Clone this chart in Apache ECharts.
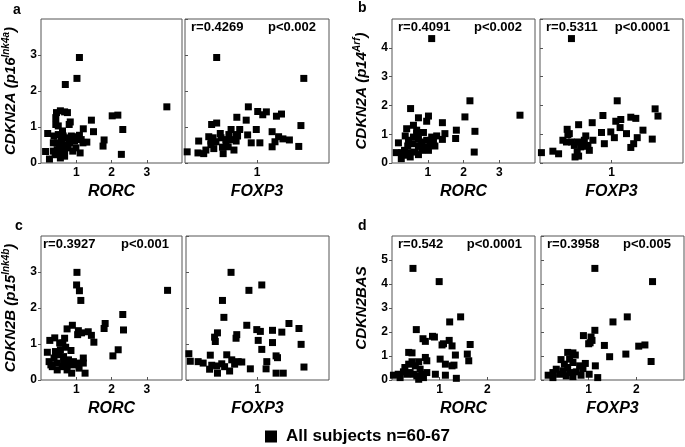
<!DOCTYPE html>
<html><head><meta charset="utf-8">
<script src="https://cdn.jsdelivr.net/npm/echarts@6/dist/echarts.min.js"></script>
<style>html,body{margin:0;padding:0;background:#fff}#c{width:685px;height:447px}</style>
</head><body><div id="c"></div>
<script>
// Panel a: CDKN2A (p16Ink4a)
const aRORC = [[1.09,2.93],[1.02,2.35],[0.69,2.18],[3.57,1.56],[2.02,1.31],[2.18,1.33],[2.32,0.93],[2.28,0.24],[1.43,1.19],[1.79,0.64],[1.76,0.47],[1.49,0.87],[1.20,0.95],[1.30,0.58],[1.11,0.28],[0.19,0.82],[0.13,0.32],[0.24,0.11],[0.44,1.40],[0.55,1.45],[0.67,1.42],[0.75,1.40],[0.42,1.26],[0.42,1.07],[0.49,1.03],[0.83,1.14],[0.80,1.07],[0.35,0.56],[0.37,0.75],[0.49,0.79],[0.63,0.75],[0.72,0.70],[0.86,0.75],[0.99,0.73],[1.09,0.77],[0.46,0.56],[0.58,0.61],[0.67,0.51],[0.81,0.56],[0.95,0.61],[1.14,0.65],[1.19,0.56],[0.35,0.33],[0.46,0.37],[0.58,0.28],[0.67,0.36],[0.55,0.14],[0.67,0.19],[0.99,0.42],[0.90,0.33],[0.77,0.42],[0.52,0.45],[0.61,0.89],[0.40,0.23],[0.81,0.64]];
const aFOXP3 = [[0.44,2.93],[1.65,2.35],[0.88,1.56],[1.01,1.43],[1.13,1.42],[1.08,1.34],[1.27,1.30],[1.34,1.36],[0.72,1.27],[0.85,1.19],[0.37,1.07],[0.44,1.11],[1.61,1.04],[0.99,0.93],[0.76,0.93],[0.64,0.93],[0.61,0.79],[0.71,0.79],[0.87,0.78],[1.21,0.87],[0.49,0.82],[0.33,0.73],[0.36,0.61],[0.43,0.59],[0.57,0.65],[0.64,0.65],[0.73,0.75],[0.92,0.56],[1.04,0.56],[1.25,0.59],[1.30,0.73],[1.36,0.67],[1.45,0.64],[1.21,0.45],[1.58,0.46],[0.03,0.31],[0.18,0.28],[0.19,0.61],[0.26,0.26],[0.29,0.36],[0.40,0.40],[0.52,0.44],[0.53,0.26],[0.60,0.45],[0.68,0.36],[0.36,0.51],[0.57,0.56],[0.39,0.70],[0.50,0.70],[0.71,0.61]];
// Panel b: CDKN2A (p14Arf)
const bRORC = [[1.11,4.32],[2.18,2.16],[2.04,1.60],[3.58,1.66],[2.32,1.10],[2.30,0.38],[1.80,1.14],[1.78,0.85],[1.41,1.40],[1.48,1.02],[1.41,0.82],[0.52,1.89],[0.74,1.57],[1.02,1.63],[0.97,1.45],[0.60,1.31],[0.41,1.19],[0.69,1.14],[0.88,1.06],[0.18,0.70],[0.12,0.36],[0.26,0.15],[0.37,0.94],[0.46,0.79],[0.60,0.90],[0.74,0.82],[0.83,0.73],[0.97,0.79],[1.11,0.90],[1.25,0.94],[1.20,0.59],[1.07,0.67],[1.02,0.44],[0.91,0.56],[0.74,0.58],[0.57,0.67],[0.44,0.59],[0.35,0.44],[0.48,0.36],[0.63,0.38],[0.74,0.29],[0.37,0.27],[0.51,0.21],[0.27,0.36],[0.83,0.44],[1.16,0.73],[0.69,1.02]];
const bFOXP3 = [[0.44,4.32],[1.08,2.16],[1.61,1.88],[1.65,1.63],[0.88,1.65],[1.27,1.59],[1.34,1.55],[1.06,1.45],[1.13,1.51],[0.54,1.33],[0.73,1.40],[1.44,1.14],[0.38,1.17],[0.39,0.99],[1.12,1.23],[0.86,1.06],[0.99,1.08],[1.21,1.02],[1.36,0.88],[1.57,0.83],[1.04,0.88],[0.90,0.67],[0.64,0.94],[0.74,0.79],[0.62,0.79],[1.31,0.67],[1.27,0.54],[0.32,0.79],[0.37,0.73],[0.44,0.73],[0.48,0.61],[0.53,0.73],[0.60,0.58],[0.67,0.61],[0.69,0.44],[0.52,0.38],[0.49,0.21],[0.54,0.24],[0.02,0.36],[0.18,0.41],[0.26,0.32],[0.41,1.02],[0.57,0.56]];
// Panel c: CDKN2B (p15Ink4b)
const cRORC = [[1.02,2.99],[1.01,2.64],[1.09,2.48],[1.13,2.21],[3.59,2.49],[2.32,1.82],[2.34,1.39],[1.82,1.57],[1.79,1.43],[2.19,0.84],[2.04,0.67],[1.34,1.34],[1.43,1.24],[1.50,1.05],[1.06,1.37],[1.15,1.31],[1.04,1.26],[0.89,1.52],[0.74,1.42],[0.18,0.77],[0.25,1.10],[0.39,1.17],[0.53,1.03],[0.67,1.16],[0.62,1.03],[0.70,0.91],[0.85,0.82],[1.20,0.61],[1.20,0.47],[1.25,0.19],[1.08,0.33],[0.92,0.42],[0.87,0.19],[0.74,0.28],[0.60,0.37],[0.46,0.47],[0.32,0.37],[0.23,0.51],[0.37,0.61],[0.51,0.70],[0.64,0.65],[0.78,0.56],[0.92,0.51],[0.41,0.79],[0.55,0.84],[0.28,0.42],[0.46,0.28],[0.64,0.47],[0.74,0.42],[1.02,0.47]];
const cFOXP3 = [[0.63,2.99],[1.06,2.64],[0.88,2.49],[0.51,2.21],[0.53,1.74],[1.44,1.57],[1.58,1.43],[1.34,1.33],[1.21,1.38],[0.85,1.52],[0.99,1.40],[1.04,1.35],[0.71,1.26],[0.70,1.16],[0.44,1.31],[0.40,1.19],[0.41,1.07],[1.01,1.10],[1.21,1.04],[1.06,0.85],[1.61,0.99],[0.04,0.73],[0.34,0.69],[0.57,0.70],[1.26,0.67],[1.28,0.62],[1.13,0.51],[1.12,0.31],[0.90,0.31],[1.26,0.19],[1.36,0.19],[1.65,0.36],[0.06,0.52],[0.17,0.51],[0.24,0.47],[0.33,0.30],[0.36,0.41],[0.44,0.19],[0.43,0.39],[0.50,0.45],[0.54,0.37],[0.61,0.25],[0.64,0.56],[0.68,0.44],[0.73,0.51],[0.78,0.50]];
// Panel d: CDKN2BAS
const dRORC = [[0.44,4.65],[0.99,4.10],[1.44,2.63],[1.21,2.42],[0.51,2.10],[0.65,1.72],[0.70,1.61],[0.85,1.82],[0.89,1.79],[1.20,1.65],[1.05,1.46],[1.08,1.51],[1.26,1.42],[1.64,1.48],[1.58,1.08],[1.61,0.80],[1.33,1.04],[1.26,0.59],[1.12,0.66],[1.30,0.62],[1.01,0.87],[0.35,1.15],[0.42,1.13],[0.70,0.94],[0.73,0.80],[0.56,0.76],[0.42,0.76],[0.35,0.66],[0.27,0.52],[0.24,0.34],[0.13,0.24],[0.03,0.20],[0.17,0.10],[0.38,0.31],[0.45,0.24],[0.52,0.17],[0.59,0.45],[0.63,0.24],[0.66,0.10],[0.73,0.31],[0.56,0.03],[0.91,0.24],[1.12,0.20],[1.35,0.07],[0.49,0.59],[0.31,0.24]];
const dFOXP3 = [[1.13,4.65],[2.34,4.10],[1.81,2.63],[1.51,2.42],[1.13,2.07],[0.89,1.85],[1.05,1.79],[1.03,1.55],[1.07,1.65],[1.00,1.51],[1.33,1.44],[2.05,1.41],[2.18,1.46],[1.78,1.08],[1.44,0.97],[2.31,0.77],[1.14,0.59],[0.93,0.69],[1.01,0.24],[1.19,0.10],[0.56,1.15],[0.67,1.13],[0.72,1.04],[0.42,0.85],[0.49,0.66],[0.60,0.87],[0.67,0.73],[0.81,0.59],[0.88,0.48],[0.15,0.20],[0.25,0.31],[0.32,0.45],[0.39,0.24],[0.46,0.38],[0.53,0.17],[0.60,0.31],[0.67,0.14],[0.74,0.34],[0.84,0.20],[0.25,0.10],[0.56,0.52]];

const panelLetters = ['a','b','c','d'];
const rLabels = ['', 'r=0.4269', 'r=0.4091', 'r=0.5311', 'r=0.3927', '', 'r=0.542', 'r=0.3958'];
const pLabels = ['', 'p<0.002', 'p<0.002', 'p<0.0001', 'p<0.001', '', 'p<0.0001', 'p<0.005'];
const xNames = ['RORC','FOXP3','RORC','FOXP3','RORC','FOXP3','RORC','FOXP3'];
const yMax = [4,4,5,5,4,4,6,6];
const xMax = [4,2,4,2,4,2,3,3];
const seriesData = [aRORC,aFOXP3,bRORC,bFOXP3,cRORC,cFOXP3,dRORC,dFOXP3];
const legendName = 'All subjects n=60-67';

const FONT = '"Liberation Sans", Arial, sans-serif';
const grids = [
  {left:37, top:19, width:145, height:144},
  {left:185, top:19, width:144, height:144},
  {left:392, top:19, width:143, height:144},
  {left:540, top:19, width:143, height:144},
  {left:37, top:236, width:145, height:144},
  {left:186, top:236, width:143, height:144},
  {left:392, top:236, width:143, height:144},
  {left:541, top:236, width:143, height:144}
];
const yNames = [
  '{i|CDKN2A (p16}{s|Ink4a}{i|)}',
  '{i|CDKN2A (p14}{s|Arf}{i|)}',
  '{i|CDKN2B (p15}{s|Ink4b}{i|)}',
  '{i|CDKN2BAS}'
];
const axisGray = '#555';
const ink = '#000';

const option = {
  animation:false,
  backgroundColor:'#fff',
  grid: grids.map(g => Object.assign({show:true, borderColor:axisGray, borderWidth:1, backgroundColor:'transparent'}, g)),
  xAxis: grids.map((g,i) => ({
    gridIndex:i, type:'value', min:0, max:xMax[i], interval:1,
    name:xNames[i], nameLocation:'middle', nameGap:21,
    nameTextStyle:{fontFamily:FONT, fontSize:16, fontWeight:'bold', fontStyle:'italic', color:ink},
    axisLine:{show:false},
    axisTick:{show:true, inside:true, length:3, lineStyle:{color:axisGray}},
    axisLabel:{showMinLabel:false, showMaxLabel:false, margin:4, fontFamily:FONT, fontSize:12, fontWeight:'bold', color:ink},
    splitLine:{show:false}
  })),
  yAxis: grids.map((g,i) => {
    const left = i % 2 === 0;
    return {
      gridIndex:i, type:'value', min:0, max:yMax[i], interval:1,
      name: left ? yNames[i/2] : '', nameLocation:'middle', nameGap:20,
      nameTextStyle:{rich:{
        i:{fontFamily:FONT, fontSize:15, fontWeight:'bold', fontStyle:'italic', color:ink, lineHeight:20},
        s:{fontFamily:FONT, fontSize:10, fontWeight:'bold', fontStyle:'italic', color:ink, verticalAlign:'top', lineHeight:20}
      }},
      axisLine:{show:false},
      axisTick:{show:true, inside:!left, length:3, lineStyle:{color:axisGray}},
      axisLabel:{show:left, showMaxLabel:false, margin:4, fontFamily:FONT, fontSize:12, fontWeight:'bold', color:ink},
      splitLine:{show:false}
    };
  }),
  legend:{
    left:260, top:423, itemWidth:12, itemHeight:12, icon:'rect',
    data:[{name:legendName, itemStyle:{color:'#000', opacity:1}}],
    textStyle:{fontFamily:FONT, fontSize:17, fontWeight:'bold', color:ink, padding:[0,0,0,4]}
  },
  series: seriesData.map((d,i) => ({
    type:'scatter', name:legendName, xAxisIndex:i, yAxisIndex:i,
    symbol:'rect', symbolSize:7, itemStyle:{color:'#000', opacity:1}, data:d, silent:true
  })),
  graphic: []
};

const letterPos = [[13,10],[358,8],[15,226],[358,226]];
panelLetters.forEach((l,k) => {
  option.graphic.push({type:'text', x:letterPos[k][0], y:letterPos[k][1],
    style:{text:l, font:'bold 14px '+FONT, fill:ink, align:'left', verticalAlign:'middle', textAlign:'left', textVerticalAlign:'middle'}});
});
grids.forEach((g,i) => {
  if (!rLabels[i]) return;
  const yy = g.top + 8;
  option.graphic.push({type:'text', x:g.left+6, y:yy,
    style:{text:rLabels[i], font:'bold 13px '+FONT, fill:ink, align:'left', verticalAlign:'middle', textAlign:'left', textVerticalAlign:'middle'}});
  option.graphic.push({type:'text', x:g.left+g.width-13, y:yy,
    style:{text:pLabels[i], font:'bold 13px '+FONT, fill:ink, align:'right', verticalAlign:'middle', textAlign:'right', textVerticalAlign:'middle'}});
});

const chart = echarts.init(document.getElementById('c'), null, {renderer:'canvas'});
chart.setOption(option);
</script>
</body></html>
